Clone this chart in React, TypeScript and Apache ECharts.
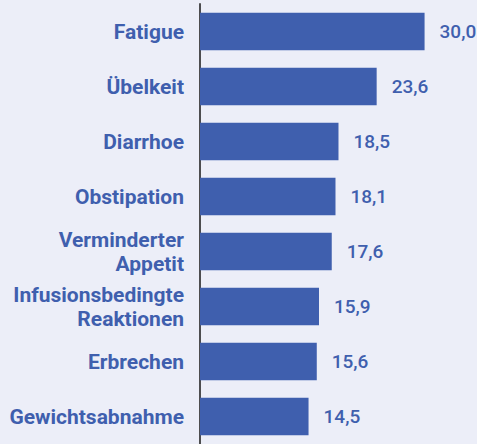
import React, { useEffect, useRef } from "react";
import * as echarts from "echarts";

const categories = [
  "Fatigue",
  "Übelkeit",
  "Diarrhoe",
  "Obstipation",
  "Verminderter\nAppetit",
  "Infusionsbedingte\nReaktionen",
  "Erbrechen",
  "Gewichtsabnahme",
];
const values = [30.0, 23.6, 18.5, 18.1, 17.6, 15.9, 15.6, 14.5];

const BLUE = "#3f5fae";
const BG = "#eceef8";

export default function App() {
  const ref = useRef<HTMLDivElement>(null);
  useEffect(() => {
    if (!ref.current) return;
    const chart = echarts.init(ref.current, undefined, { renderer: "svg" });
    chart.setOption({
      animation: false,
      backgroundColor: BG,
      grid: { left: 200, right: 15, top: 4, height: 445.4, containLabel: false },
      xAxis: {
        type: "value",
        min: 0,
        max: 35,
        show: false,
      },
      yAxis: {
        type: "category",
        data: categories,
        inverse: true,
        axisLine: { show: true, lineStyle: { color: "#4d4d4f", width: 2 } },
        axisTick: { show: false },
        axisLabel: {
          margin: 16,
          color: BLUE,
          fontFamily: "Roboto",
          fontWeight: "bold",
          fontSize: 21,
          lineHeight: 24,
          align: "right",
        },
        splitLine: { show: false },
      },
      series: [
        {
          type: "bar",
          data: values,
          barCategoryGap: "31.7%",
          itemStyle: { color: BLUE },
          label: {
            show: true,
            position: "right",
            distance: 15,
            color: BLUE,
            fontFamily: "Roboto",
            fontWeight: 500,
            fontSize: 19,
            formatter: (p: any) => Number(p.value).toFixed(1).replace(".", ","),
          },
        },
      ],
    });
    return () => chart.dispose();
  }, []);
  return (
    <div
      ref={ref}
      style={{ position: "fixed", left: 0, top: 0, width: 477, height: 444 }}
    />
  );
}
